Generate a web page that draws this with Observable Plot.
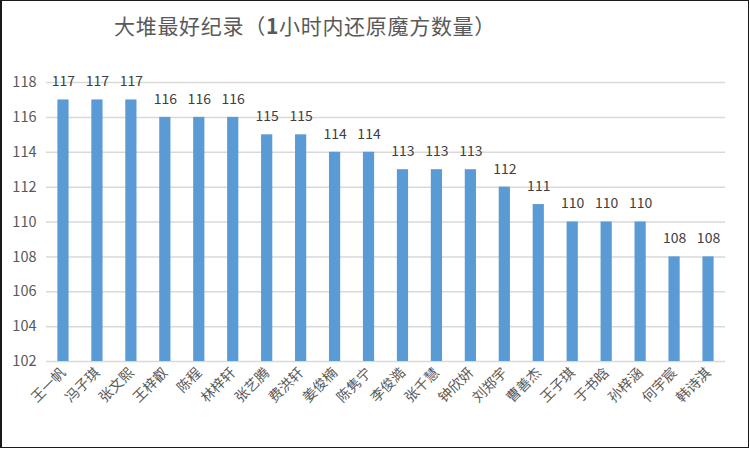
<!DOCTYPE html>
<html>
<head>
<meta charset="utf-8">
<script src="https://cdn.jsdelivr.net/npm/d3@7"></script>
<script src="https://cdn.jsdelivr.net/npm/@observablehq/plot@0.6"></script>
<style>
  html, body { margin: 0; padding: 0; background: #fff; }
  #frame { position: relative; width: 746px; height: 446px; border: 1px solid #1a1a1a; border-left-width: 2px; overflow: hidden; background: #fff; }
  #title { position: absolute; left: 0; top: 9px; width: 606px; text-align: center; font-family: "Noto Sans CJK SC", sans-serif; font-size: 21px; color: #595959; letter-spacing: 0.7px; }
  #chart { position: absolute; left: -2px; top: 55px; width: 750px; height: 394px; }
  #chart svg { max-width: none; }
</style>
</head>
<body>
<div id="frame">
  <div id="title">大堆最好纪录（<b>1</b>小时内还原魔方数量）</div>
  <div id="chart"></div>
</div>
<script>
const names = ["王一帆","冯子琪","张文熙","王梓叡","陈程","林梓轩","张艺腾","费洪轩","姜俊楠","陈隽宁","李俊澔","张千慧","钟欣妍","刘郑宇","曹善杰","王子琪","于书晗","孙梓涵","何宇宸","韩诗淇"];
const values = [117,117,117,116,116,116,115,115,114,114,113,113,113,112,111,110,110,110,108,108];
const yTicks = [102,104,106,108,110,112,114,116,118];
const baseline = 102;

const data = names.map((n, i) => ({name: n, value: values[i]}));

const plot = Plot.plot({
  width: 750,
  height: 394,
  marginLeft: 46,
  marginRight: 25,
  marginTop: 26,
  marginBottom: 89,
  style: {fontFamily: "'Noto Sans CJK SC', sans-serif", background: "transparent"},
  x: {domain: names, paddingInner: 0.67, paddingOuter: 0.335, round: false, label: null},
  y: {domain: [102, 118], ticks: yTicks, label: null},
  marks: [
    Plot.gridY(yTicks, {stroke: "#d9d9d9", strokeOpacity: 1, strokeWidth: 1.5}),
    Plot.barY(data, {x: "name", y1: () => baseline, y2: "value", fill: "#5b9bd5"}),
    Plot.text(data, {x: "name", y: "value", text: d => String(d.value), dy: -18, fontSize: 14, fill: "#404040"}),
    Plot.axisY({ticks: yTicks, tickSize: 0, tickPadding: 10, fontSize: 14.5, color: "#595959"}),
    Plot.axisX({tickSize: 0, tickRotate: -45, tickPadding: 9, fontSize: 14, color: "#595959", textAnchor: "end"})
  ]
});
document.getElementById("chart").appendChild(plot);
</script>
</body>
</html>
